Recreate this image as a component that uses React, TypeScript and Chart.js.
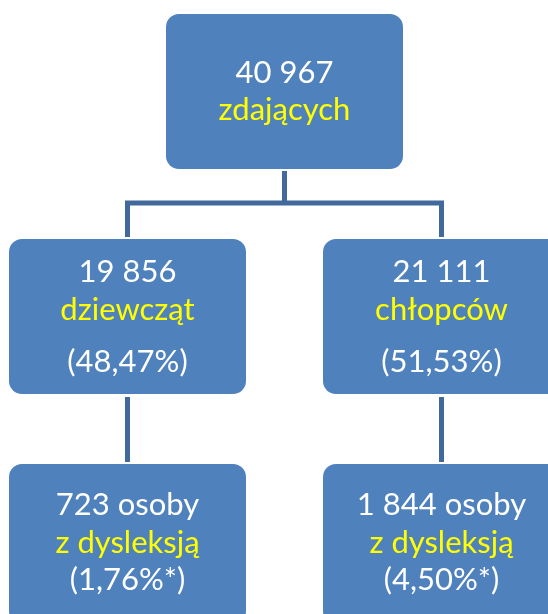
import React, { useEffect, useRef } from "react";
import { Chart, registerables } from "chart.js";

Chart.register(...registerables);

// ---- data ----
const counts = ["40 967", "19 856", "21 111", "723 osoby", "1 844 osoby"];
const descriptions = ["zdających", "dziewcząt", "chłopców", "z dysleksją", "z dysleksją"];
const shares = ["", "(48,47%)", "(51,53%)", "(1,76%*)", "(4,50%*)"];
const parents = [-1, 0, 0, 1, 2];

// ---- layout (diagram units = pixels) ----
const BOX_X = [166, 9, 323, 9, 323];
const BOX_Y = [14, 239, 239, 464, 464];
const BOX_W = 237;
const BOX_H = [155, 155, 155, 160, 160];
const LINE_Y = [[73, 110, 0], [272, 310, 362], [272, 310, 362], [505, 543, 580], [505, 543, 580]];
const BUS_Y = 203;

const FILL = "#4F81BD";
const LINE = "#41699B";
const FONT = "Lato, 'Open Sans', sans-serif";

function connectorDatasets() {
  const ds: any[] = [];
  const cx = (i: number) => BOX_X[i] + BOX_W / 2;
  ds.push([{ x: cx(0), y: BOX_Y[0] + BOX_H[0] + 2 }, { x: cx(0), y: BUS_Y }]);
  ds.push([{ x: cx(1) - 2.5, y: BUS_Y }, { x: cx(2) + 2.5, y: BUS_Y }]);
  for (let i = 1; i < parents.length; i++) {
    const p = parents[i];
    const startY = p === 0 ? BUS_Y : BOX_Y[p] + BOX_H[p] + 3;
    ds.push([{ x: cx(i), y: startY }, { x: cx(i), y: BOX_Y[i] - 2 }]);
  }
  return ds.map((data) => ({
    data,
    showLine: true,
    borderColor: LINE,
    borderWidth: 5,
    pointRadius: 0,
    borderCapStyle: "butt",
  }));
}

const boxPlugin = {
  id: "boxes",
  afterDatasetsDraw(chart: any) {
    const { ctx } = chart;
    const xs = chart.scales.x;
    const ys = chart.scales.y;
    for (let i = 0; i < counts.length; i++) {
      const x0 = xs.getPixelForValue(BOX_X[i]);
      const x1 = xs.getPixelForValue(BOX_X[i] + BOX_W);
      const y0 = ys.getPixelForValue(BOX_Y[i]);
      const y1 = ys.getPixelForValue(BOX_Y[i] + BOX_H[i]);
      ctx.save();
      ctx.beginPath();
      (ctx as any).roundRect(x0, y0, x1 - x0, y1 - y0, 13);
      ctx.fillStyle = FILL;
      ctx.fill();
      ctx.textAlign = "center";
      ctx.textBaseline = "middle";
      ctx.font = `31px ${FONT}`;
      const cx = (x0 + x1) / 2;
      const lines = [counts[i], descriptions[i], shares[i]];
      const colors = ["#FFFFFF", "#FFFF00", "#FFFFFF"];
      lines.forEach((t, k) => {
        if (!t) return;
        ctx.fillStyle = colors[k];
        ctx.fillText(t, cx, ys.getPixelForValue(LINE_Y[i][k]));
      });
      ctx.restore();
    }
  },
};

export default function App() {
  const ref = useRef<HTMLCanvasElement>(null);
  useEffect(() => {
    document.body.style.margin = "0";
    const chart = new Chart(ref.current!, {
      type: "scatter",
      data: { datasets: connectorDatasets() as any },
      options: {
        animation: false,
        responsive: false,
        maintainAspectRatio: false,
        layout: { padding: 0 },
        plugins: { legend: { display: false }, tooltip: { enabled: false } },
        scales: {
          x: { type: "linear", min: 0, max: 548, display: false },
          y: { type: "linear", min: 0, max: 614, reverse: true, display: false },
        },
      },
      plugins: [boxPlugin],
    });
    return () => chart.destroy();
  }, []);
  return (
    <div style={{ width: 548, height: 614, background: "#fff" }}>
      <canvas ref={ref} width={548} height={614} />
    </div>
  );
}
